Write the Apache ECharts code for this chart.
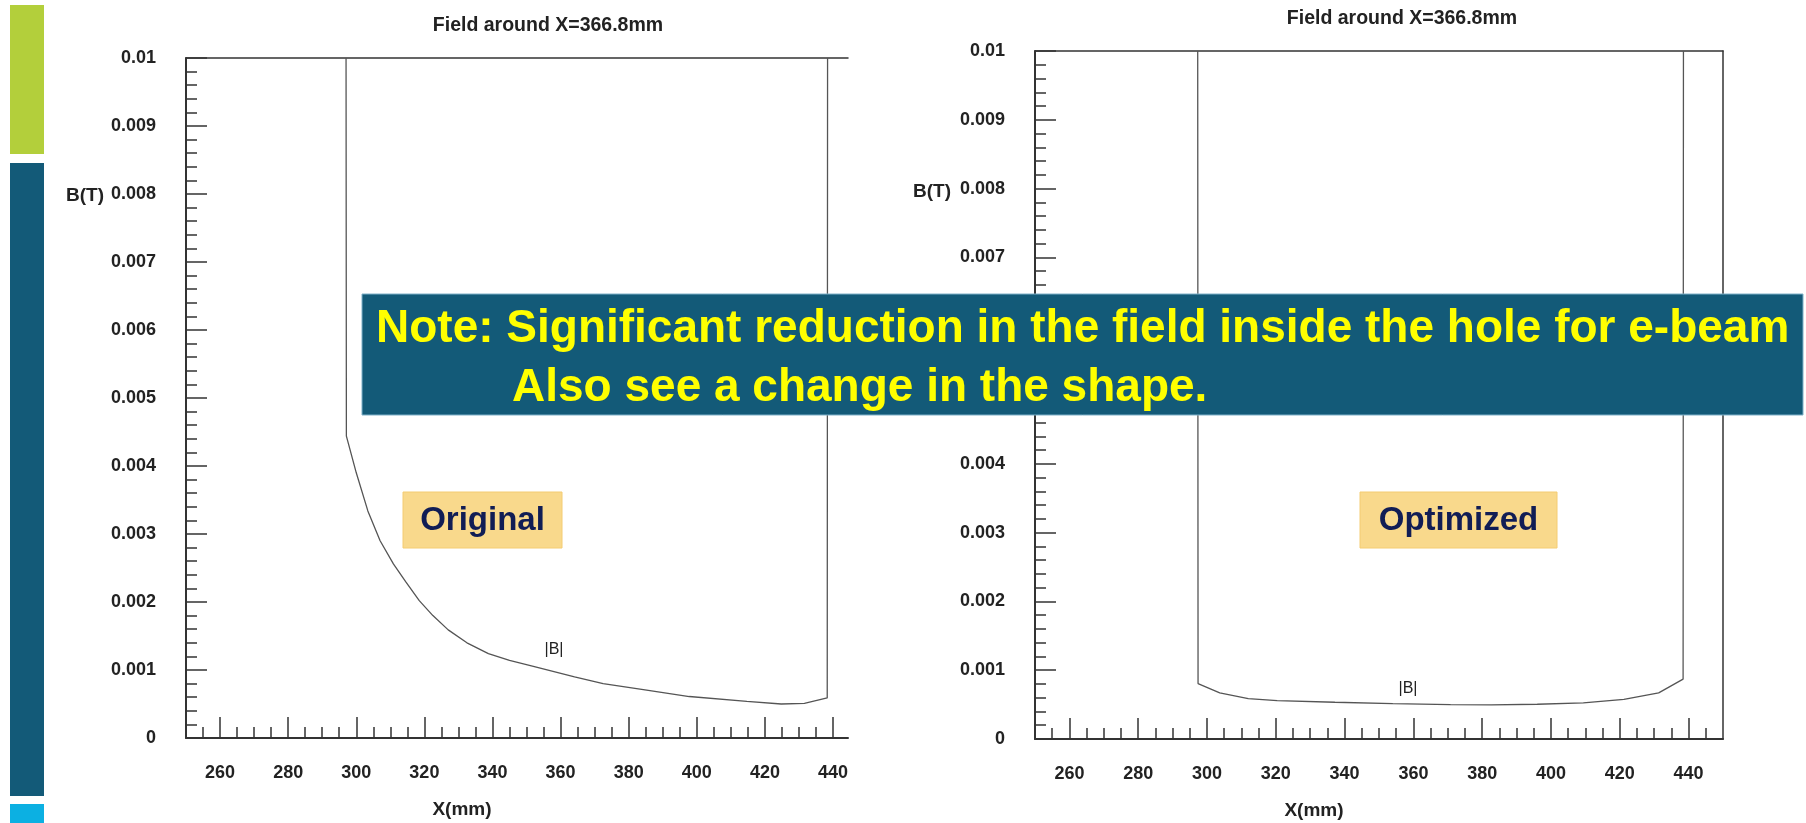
<!DOCTYPE html>
<html>
<head>
<meta charset="utf-8">
<script src="https://cdn.jsdelivr.net/npm/echarts@6/dist/echarts.min.js"></script>
<style>
  html, body { margin: 0; padding: 0; background: #fff; }
  #main { width: 1806px; height: 823px; }
</style>
</head>
<body>
<div id="main"></div>
<script>
// tick labels
var xTicks = [260, 280, 300, 320, 340, 360, 380, 400, 420, 440];
var yTicks = [0, 0.001, 0.002, 0.003, 0.004, 0.005, 0.006, 0.007, 0.008, 0.009, 0.01];

// |B| along X, original design (left plot)
var origX = [297.0, 297.1, 300.0, 303.4, 307.0, 310.9, 314.5, 318.5, 322.5, 327.0, 332.5, 338.8, 345.0, 352.3, 364.1, 372.5, 384.3, 397.8, 414.7, 424.8, 431.6, 438.3, 438.4];
var origB = [0.01, 0.00444, 0.0039, 0.00334, 0.0029, 0.00256, 0.0023, 0.00202, 0.0018, 0.00159, 0.0014, 0.00124, 0.00114, 0.00105, 0.0009, 0.0008, 0.00071, 0.00061, 0.00054, 0.0005, 0.00051, 0.00059, 0.01];

// |B| along X, optimized design (right plot)
var optX = [297.3, 297.4, 303.7, 312.0, 320.4, 337.2, 354.0, 370.8, 382.6, 396.0, 409.4, 421.2, 431.3, 438.4, 438.5];
var optB = [0.01, 0.000806, 0.00067, 0.000587, 0.000558, 0.000534, 0.000515, 0.0005, 0.000495, 0.000505, 0.000524, 0.000575, 0.00067, 0.000871, 0.01];

var FONT = '"Liberation Sans", Arial, sans-serif';
var axisColor = '#333';

function pairs(xs, ys) {
  return xs.map(function (x, i) { return [x, ys[i]]; });
}

function bottomAxis(gridIndex, max) {
  return {
    type: 'value', gridIndex: gridIndex, min: 250, max: max,
    minInterval: 20, maxInterval: 20,
    axisLine: { show: true, onZero: false, lineStyle: { color: axisColor, width: 2 } },
    axisTick: { show: true, inside: true, length: 21, customValues: xTicks, lineStyle: { color: axisColor, width: 1.5 } },
    minorTick: { show: true, splitNumber: 4, length: 11, lineStyle: { color: axisColor, width: 1.5 } },
    axisLabel: {
      customValues: xTicks, margin: 26, color: '#222', fontSize: 18, fontWeight: 'bold', fontFamily: FONT,
      formatter: function (v) { return xTicks.indexOf(v) >= 0 ? String(v) : ''; }
    },
    splitLine: { show: false }
  };
}

function topAxis(gridIndex, max) {
  return {
    type: 'value', gridIndex: gridIndex, position: 'top', min: 250, max: max,
    axisLine: { show: true, onZero: false, lineStyle: { color: axisColor, width: 1.5 } },
    axisTick: { show: false }, axisLabel: { show: false }, splitLine: { show: false }
  };
}

function leftAxis(gridIndex) {
  return {
    type: 'value', gridIndex: gridIndex, min: 0, max: 0.01, interval: 0.001,
    axisLine: { show: true, onZero: false, lineStyle: { color: axisColor, width: 2 } },
    axisTick: { show: true, inside: true, length: 21, lineStyle: { color: axisColor, width: 1.5 } },
    minorTick: { show: true, splitNumber: 5, length: 11, lineStyle: { color: axisColor, width: 1.5 } },
    axisLabel: {
      margin: 30, color: '#222', fontSize: 18, fontWeight: 'bold', fontFamily: FONT,
      formatter: function (v) { return String(yTicks[Math.round(v * 1000)]); }
    },
    splitLine: { show: false }
  };
}

function txt(x, y, text, size, color, weight, align) {
  return {
    type: 'text', x: x, y: y, z: 100,
    style: {
      text: text, fill: color, font: (weight || 'normal') + ' ' + size + 'px ' + FONT,
      align: align || 'center', verticalAlign: 'middle',
      textAlign: align || 'center', textVerticalAlign: 'middle'
    }
  };
}

function tag(x, y, w, h, text) {
  return [
    { type: 'rect', z: 90, shape: { x: x, y: y, width: w, height: h },
      style: { fill: '#f9d98c', stroke: '#f4cc73', lineWidth: 1 } },
    txt(x + w / 2, y + h / 2 + 1, text, 33, '#111d55', 'bold')
  ];
}

var chart = echarts.init(document.getElementById('main'));
chart.setOption({
  backgroundColor: '#fff',
  animation: false,
  grid: [
    { left: 186, top: 58, width: 662, height: 680, containLabel: false, outerBoundsMode: 'none' },
    { left: 1035, top: 51, width: 688, height: 688, containLabel: false, outerBoundsMode: 'none' }
  ],
  xAxis: [bottomAxis(0, 444.4), topAxis(0, 444.4), bottomAxis(1, 450), topAxis(1, 450)],
  yAxis: [
    leftAxis(0),
    leftAxis(1),
    {
      type: 'value', gridIndex: 1, position: 'right', min: 0, max: 0.01,
      axisLine: { show: true, onZero: false, lineStyle: { color: axisColor, width: 1.5 } },
      axisTick: { show: false }, axisLabel: { show: false }, splitLine: { show: false }
    }
  ],
  series: [
    {
      type: 'line', xAxisIndex: 0, yAxisIndex: 0, data: pairs(origX, origB),
      symbol: 'none', clip: true, lineStyle: { color: '#555', width: 1.3 }
    },
    {
      type: 'line', xAxisIndex: 2, yAxisIndex: 1, data: pairs(optX, optB),
      symbol: 'none', clip: true, lineStyle: { color: '#555', width: 1.3 }
    }
  ],
  graphic: [
    // side bars
    { type: 'rect', shape: { x: 10, y: 5, width: 34, height: 149 }, style: { fill: '#b3cf3b' } },
    { type: 'rect', shape: { x: 10, y: 163, width: 34, height: 633 }, style: { fill: '#135a78' } },
    { type: 'rect', shape: { x: 10, y: 804, width: 34, height: 19 }, style: { fill: '#0cb0e2' } },
    // titles and axis names
    txt(548, 26, 'Field around X=366.8mm', 19.5, '#222', 'bold'),
    txt(1402, 19, 'Field around X=366.8mm', 19.5, '#222', 'bold'),
    txt(85, 196, 'B(T)', 19, '#222', 'bold'),
    txt(932, 192, 'B(T)', 19, '#222', 'bold'),
    txt(462, 810, 'X(mm)', 19, '#222', 'bold'),
    txt(1314, 811, 'X(mm)', 19, '#222', 'bold'),
    txt(554, 650, '|B|', 16, '#222'),
    txt(1408, 689, '|B|', 16, '#222'),
    // note banner
    { type: 'rect', z: 95, shape: { x: 362, y: 294, width: 1441, height: 121 },
      style: { fill: '#135a78', stroke: '#7fb0c8', lineWidth: 1 } },
    txt(376, 329, 'Note: Significant reduction in the field inside the hole for e-beam', 46, '#ffff00', 'bold', 'left'),
    txt(512, 388, 'Also see a change in the shape.', 46, '#ffff00', 'bold', 'left')
  ].concat(tag(403, 492, 159, 56, 'Original'), tag(1360, 492, 197, 56, 'Optimized'))
});
</script>
</body>
</html>
